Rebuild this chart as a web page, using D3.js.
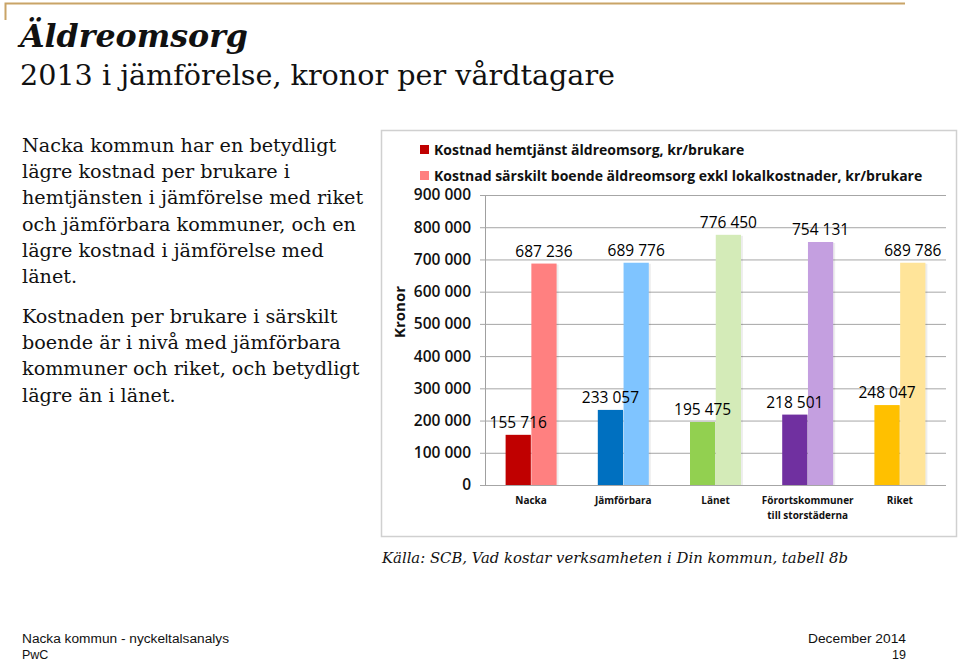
<!DOCTYPE html>
<html><head><meta charset="utf-8">
<script src="https://cdn.jsdelivr.net/npm/d3@7"></script>
<style>body{margin:0;background:#fff}svg{display:block}</style>
</head><body>
<script>
const categories = ["Nacka", "Jämförbara", "Länet", "Förortskommuner\ntill storstäderna", "Riket"];
const seriesNames = ["Kostnad hemtjänst äldreomsorg, kr/brukare", "Kostnad särskilt boende äldreomsorg exkl lokalkostnader, kr/brukare"];
const hemtjanst = [155716, 233057, 195475, 218501, 248047];
const sarskiltBoende = [687236, 689776, 776450, 754131, 689786];
const darkColors = ["#C00000", "#0070C0", "#92D050", "#7030A0", "#FFC000"];
const lightColors = ["#FF8080", "#7FC4FF", "#D4EBB8", "#C49FE0", "#FFE499"];
const yTicks = [0, 100000, 200000, 300000, 400000, 500000, 600000, 700000, 800000, 900000];
const bodyPara1 = ["Nacka kommun har en betydligt", "lägre kostnad per brukare i", "hemtjänsten i jämförelse med riket", "och jämförbara kommuner, och en", "lägre kostnad i jämförelse med", "länet."];
const bodyPara2 = ["Kostnaden per brukare i särskilt", "boende är i nivå med jämförbara", "kommuner och riket, och betydligt", "lägre än i länet."];

const W = 960, H = 661;
const svg = d3.select("body").append("svg").attr("width", W).attr("height", H);
const fmt = v => d3.format(",")(v).replace(/,/g, " ");

// top decorative border
svg.append("path").attr("d", "M5.5,20 V3.5 H905").attr("fill", "none").attr("stroke", "#C9A467").attr("stroke-width", 2);

// Titles
svg.append("text").attr("x", 20).attr("y", 47).text("Äldreomsorg")
  .attr("font-family", "DejaVu Serif").attr("font-weight", "bold").attr("font-style", "italic").attr("font-size", 32).attr("fill", "#111")
  .attr("textLength", 228).attr("lengthAdjust", "spacingAndGlyphs");
svg.append("text").attr("x", 20).attr("y", 85).text("2013 i jämförelse, kronor per vårdtagare")
  .attr("font-family", "DejaVu Serif").attr("font-size", 27).attr("fill", "#111").attr("textLength", 595).attr("lengthAdjust", "spacingAndGlyphs");

// Body
const bodyG = svg.append("g").attr("font-family", "DejaVu Serif").attr("font-size", 19.2).attr("fill", "#111");
bodyPara1.forEach((t, i) => bodyG.append("text").attr("x", 22).attr("y", 151.7 + i * 26.3).text(t));
bodyPara2.forEach((t, i) => bodyG.append("text").attr("x", 22).attr("y", 322.7 + i * 26.3).text(t));

// Chart box
svg.append("rect").attr("x", 381.5).attr("y", 130.5).attr("width", 575).attr("height", 406)
  .attr("fill", "#fff").attr("stroke", "#D0D0D0").attr("stroke-width", 1.5);

const plotL = 485, plotR = 946, plotT = 195, plotB = 485;
const y = d3.scaleLinear().domain([0, 900000]).range([plotB, plotT]);
const x0 = d3.scaleBand().domain(categories).range([plotL, plotR]).paddingInner(0.447).paddingOuter(0.2235);
const x1 = d3.scaleBand().domain([0, 1]).range([0, x0.bandwidth()]).paddingInner(0.02);

const F = "Open Sans";
// grid + y axis
const yAxis = d3.axisLeft(y).tickValues(yTicks).tickFormat(fmt).tickSize(-(plotR - plotL)).tickSizeOuter(0).tickPadding(14);
const ya = svg.append("g").attr("transform", `translate(${plotL},0)`).call(yAxis);
ya.select(".domain").attr("stroke", "#A0A0A0");
ya.selectAll(".tick line").attr("stroke", "#A6A6A6").attr("x1", -5);
ya.selectAll(".tick text").attr("font-family", F).attr("font-weight", 600).attr("font-size", 15.5).attr("fill", "#111");
ya.select(".domain").attr("d", `M0.5,${plotT}V${plotB}`);

// Axis title
svg.append("text").attr("transform", "translate(405,312) rotate(-90)").attr("text-anchor", "middle")
  .attr("font-family", F).attr("font-weight", 700).attr("font-size", 15).attr("fill", "#111").text("Kronor");

// bars
const barsG = svg.append("g");
const labelsG = svg.append("g").attr("font-family", F).attr("font-size", 15.5).attr("fill", "#000").attr("text-anchor", "middle");
categories.forEach((c, i) => {
  const vals = [hemtjanst[i], sarskiltBoende[i]];
  const cols = [darkColors[i], lightColors[i]];
  vals.forEach((v, s) => {
    const bx = x0(c) + x1(s);
    barsG.append("rect").attr("x", bx + 2).attr("y", y(v) + 1).attr("width", x1.bandwidth()).attr("height", y(0) - y(v) - 1)
      .attr("fill", "#000").attr("opacity", 0.07);
    barsG.append("rect").attr("x", bx).attr("y", y(v)).attr("width", x1.bandwidth()).attr("height", y(0) - y(v))
      .attr("fill", cols[s]);
    labelsG.append("text").attr("x", bx + x1.bandwidth() / 2).attr("y", y(v) - 7).text(fmt(v));
  });
});

// x labels
const xl = svg.append("g").attr("font-family", F).attr("font-weight", 700).attr("font-size", 10).attr("fill", "#111").attr("text-anchor", "middle");
categories.forEach(c => {
  c.split("\n").forEach((line, j) => {
    xl.append("text").attr("x", x0(c) + x0.bandwidth() / 2).attr("y", 504 + j * 15).text(line);
  });
});

// legend
const lg = svg.append("g").attr("font-family", F).attr("font-weight", 700).attr("font-size", 14).attr("fill", "#111");
seriesNames.forEach((n, i) => {
  lg.append("rect").attr("x", 420).attr("y", 145 + i * 26).attr("width", 9).attr("height", 9).attr("fill", i === 0 ? darkColors[0] : lightColors[0]);
  lg.append("text").attr("x", 434).attr("y", 155 + i * 26).text(n);
});

// source
svg.append("text").attr("x", 382).attr("y", 563).attr("font-family", "DejaVu Serif").attr("font-style", "italic").attr("font-size", 15.5)
  .attr("fill", "#111").attr("textLength", 466).attr("lengthAdjust", "spacingAndGlyphs")
  .text("Källa: SCB, Vad kostar verksamheten i Din kommun, tabell 8b");

// footer
const ft = svg.append("g").attr("font-family", "Liberation Sans").attr("font-size", 12.5).attr("fill", "#111");
ft.append("text").attr("x", 22).attr("y", 643).attr("textLength", 207).attr("lengthAdjust", "spacingAndGlyphs").text("Nacka kommun - nyckeltalsanalys");
ft.append("text").attr("x", 22).attr("y", 659).text("PwC");
ft.append("text").attr("x", 808).attr("y", 643).attr("textLength", 98).attr("lengthAdjust", "spacingAndGlyphs").text("December 2014");
ft.append("text").attr("x", 906).attr("y", 659).attr("text-anchor", "end").text("19");
</script>
</body></html>
